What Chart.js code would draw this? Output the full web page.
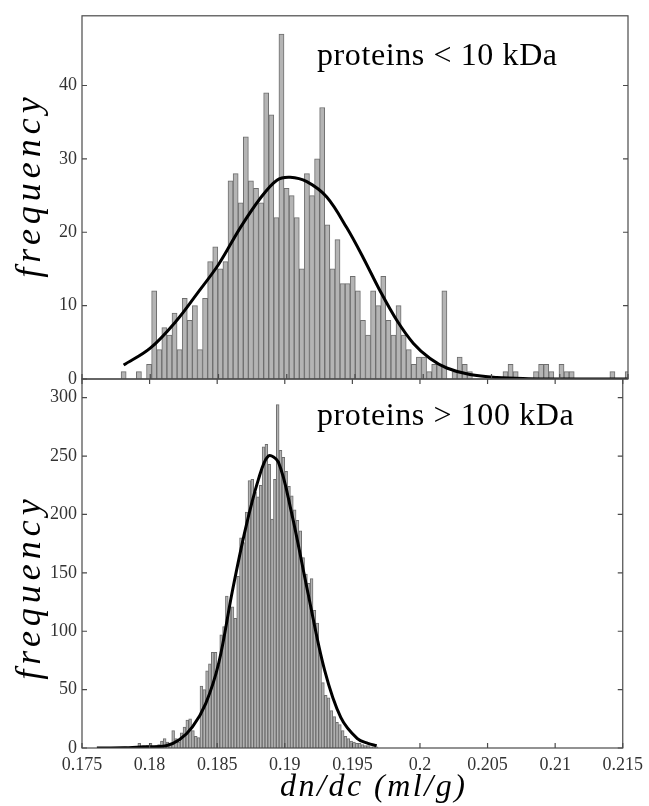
<!DOCTYPE html>
<html>
<head>
<meta charset="utf-8">
<script src="https://cdn.jsdelivr.net/npm/chart.js@4.4.1/dist/chart.umd.min.js"></script>
<style>
  html, body { margin: 0; padding: 0; background: #fff; }
  #wrap { position: relative; width: 649px; height: 806px; }
  canvas { position: absolute; left: 0; top: 0; }
</style>
</head>
<body>
<div id="wrap">
  <canvas id="topChart" width="649" height="806"></canvas>
  <canvas id="bottomChart" width="649" height="806"></canvas>
</div>
<script>
// x axis (shared)
let xTicks = [0.175, 0.18, 0.185, 0.19, 0.195, 0.2, 0.205, 0.21, 0.215]
let xTickLabels = ['0.175', '0.18', '0.185', '0.19', '0.195', '0.2', '0.205', '0.21', '0.215']

// top panel: proteins < 10 kDa, 100 bins
let smallFirstCenter = 0.17805
let smallBinWidth = 0.000373
let smallCounts = [
  1, 0, 0, 1, 0, 2, 12, 4, 7, 6,
  9, 4, 11, 8, 10, 4, 11, 16, 18, 15,
  16, 27, 28, 24, 33, 27, 26, 24, 39, 36,
  22, 47, 26, 25, 22, 15, 28, 25, 30, 37,
  21, 15, 19, 13, 13, 14, 12, 8, 6, 12,
  10, 14, 8, 6, 10, 6, 4, 2, 3, 3,
  1, 2, 2, 12, 0, 1, 3, 2, 1, 0,
  0, 0, 0, 0, 0, 1, 2, 1, 0, 0,
  0, 1, 2, 2, 1, 0, 2, 1, 1, 0,
  0, 0, 0, 0, 0, 0, 1, 0, 0, 1
]
let smallFitX = [0.17805, 0.18, 0.18195, 0.18342, 0.185, 0.18659, 0.18805, 0.18928, 0.19025, 0.19147, 0.19293, 0.1944, 0.19561, 0.19684, 0.19806, 0.19928, 0.2005, 0.20172, 0.20342, 0.20538, 0.2077, 0.21, 0.2125, 0.215]
let smallFitY = [1.9, 4.2, 8.0, 11.6, 15.6, 20.6, 24.6, 27.1, 27.5, 26.9, 24.8, 20.6, 16.5, 12.0, 8.0, 4.85, 2.8, 1.5, 0.6, 0.2, 0.05, 0.01, 0, 0]
let smallYTicks = [0, 10, 20, 30, 40]

// bottom panel: proteins > 100 kDa, 100 bins
let largeFirstCenter = 0.1761
let largeBinWidth = 0.000209
let largeCounts = [
  0, 0, 0, 0, 0, 0, 0, 0, 0, 0,
  1, 0, 0, 0, 1, 4, 1, 1, 2, 4,
  1, 2, 3, 6, 8, 5, 4, 15, 8, 5,
  13, 18, 24, 25, 15, 10, 9, 53, 50, 66,
  72, 82, 82, 71, 97, 104, 130, 121, 121, 111,
  147, 180, 176, 202, 229, 230, 219, 215, 225, 258,
  260, 243, 196, 230, 294, 255, 249, 237, 224, 216,
  204, 195, 186, 163, 149, 141, 145, 118, 107, 80,
  56, 45, 43, 32, 27, 22, 20, 15, 10, 8,
  6, 5, 4, 4, 3, 2, 2, 1, 1, 1
]
let largeFitX = [0.1761, 0.178, 0.17951, 0.18122, 0.1822, 0.18317, 0.18415, 0.18512, 0.1861, 0.18708, 0.18805, 0.18878, 0.18952, 0.19049, 0.19171, 0.19294, 0.19415, 0.19537, 0.19615, 0.1968]
let largeFitY = [0, 0.2, 1, 2, 7, 18, 38, 73, 133, 187, 230, 250, 245, 202, 133, 67, 26, 8, 4, 2]
let largeYTicks = [0, 50, 100, 150, 200, 250, 300]

Chart.defaults.font.family = 'Liberation Serif'
Chart.defaults.color = '#333'

function drawText(ctx, str, x, y, font, spacing, angle, align) {
  ctx.save()
  ctx.font = font
  ctx.letterSpacing = spacing + 'px'
  ctx.fillStyle = '#000'
  ctx.textAlign = align
  ctx.textBaseline = 'alphabetic'
  ctx.translate(x, y)
  ctx.rotate(angle)
  ctx.fillText(str, 0, 0)
  ctx.restore()
}

// box round the plot, inward ticks, and the labels
const framePlugin = {
  id: 'frame',
  afterDraw(chart, args, opts) {
    const ctx = chart.ctx
    const a = chart.chartArea
    const xs = chart.scales.x
    const ys = chart.scales.y
    ctx.save()
    ctx.strokeStyle = '#4a4a4a'
    ctx.lineWidth = 1.2
    ctx.strokeRect(a.left, a.top, a.right - a.left, a.bottom - a.top)
    ctx.beginPath()
    xs.ticks.forEach(t => {
      const px = xs.getPixelForValue(t.value)
      ctx.moveTo(px, a.bottom); ctx.lineTo(px, a.bottom - 5)
      if (opts.topTicks) { ctx.moveTo(px, a.top); ctx.lineTo(px, a.top + 5) }
    })
    ys.ticks.forEach(t => {
      const py = ys.getPixelForValue(t.value)
      ctx.moveTo(a.left, py); ctx.lineTo(a.left + 5, py)
      ctx.moveTo(a.right, py); ctx.lineTo(a.right - 5, py)
    })
    ctx.stroke()
    ctx.restore()

    drawText(ctx, opts.note, 317, opts.noteY, '32px "Liberation Serif"', 0.6, 0, 'left')
    drawText(ctx, 'frequency', 40, opts.yTitleY, 'italic 36px "Liberation Serif"', 5, -Math.PI / 2, 'center')
    if (opts.xTitle) {
      drawText(ctx, opts.xTitle, 280, 796, 'italic 32px "Liberation Serif"', 2.5, 0, 'left')
    }
  }
}

function makeChart(id, counts, firstCenter, binWidth, fitX, fitY, yMax, yTicks, showX, pad, frameOpts) {
  let bars = counts.map((c, i) => ({ x: firstCenter + i * binWidth, y: c }))
  let fit = fitX.map((x, i) => ({ x: x, y: fitY[i] }))
  return new Chart(document.getElementById(id).getContext('2d'), {
    type: 'bar',
    data: {
      datasets: [{
        type: 'line',
        data: fit,
        borderColor: '#000',
        borderWidth: 3,
        pointRadius: 0,
        tension: 0.35,
        fill: false,
        order: 0
      }, {
        type: 'bar',
        data: bars,
        backgroundColor: 'rgb(180,180,180)',
        borderColor: 'rgb(110,110,110)',
        borderWidth: 1,
        barPercentage: 1,
        categoryPercentage: 1,
        order: 1
      }]
    },
    options: {
      responsive: false,
      animation: false,
      devicePixelRatio: 1,
      layout: { padding: pad },
      plugins: { legend: { display: false }, tooltip: { enabled: false }, frame: frameOpts },
      scales: {
        x: {
          type: 'linear',
          offset: false,
          min: 0.175,
          max: 0.215,
          grid: { display: false, drawTicks: false, offset: false },
          border: { display: false },
          afterBuildTicks: s => { s.ticks = xTicks.map(v => ({ value: v })) },
          afterFit: s => { s.height = showX ? 58 : 0 },
          ticks: {
            display: showX,
            padding: 6,
            maxRotation: 0,
            font: { size: 18 },
            callback: (v, i) => xTickLabels[i]
          }
        },
        y: {
          min: 0,
          max: yMax,
          grid: { display: false, drawTicks: false },
          border: { display: false },
          afterBuildTicks: s => { s.ticks = yTicks.map(v => ({ value: v })) },
          afterFit: s => { s.width = 82 },
          ticks: { padding: 5, font: { size: 18 } }
        }
      }
    },
    plugins: [framePlugin]
  })
}

makeChart('topChart', smallCounts, smallFirstCenter, smallBinWidth, smallFitX, smallFitY, 49.5, smallYTicks, false,
  { left: 0, top: 12, right: 21, bottom: 427 },
  { topTicks: false, note: 'proteins < 10 kDa', noteY: 65, yTitleY: 185 })

makeChart('bottomChart', largeCounts, largeFirstCenter, largeBinWidth, largeFitX, largeFitY, 316, largeYTicks, true,
  { left: 0, top: 379, right: 21, bottom: 0 },
  { topTicks: true, note: 'proteins > 100 kDa', noteY: 425, yTitleY: 587, xTitle: 'dn/dc (ml/g)' })
</script>
</body>
</html>
